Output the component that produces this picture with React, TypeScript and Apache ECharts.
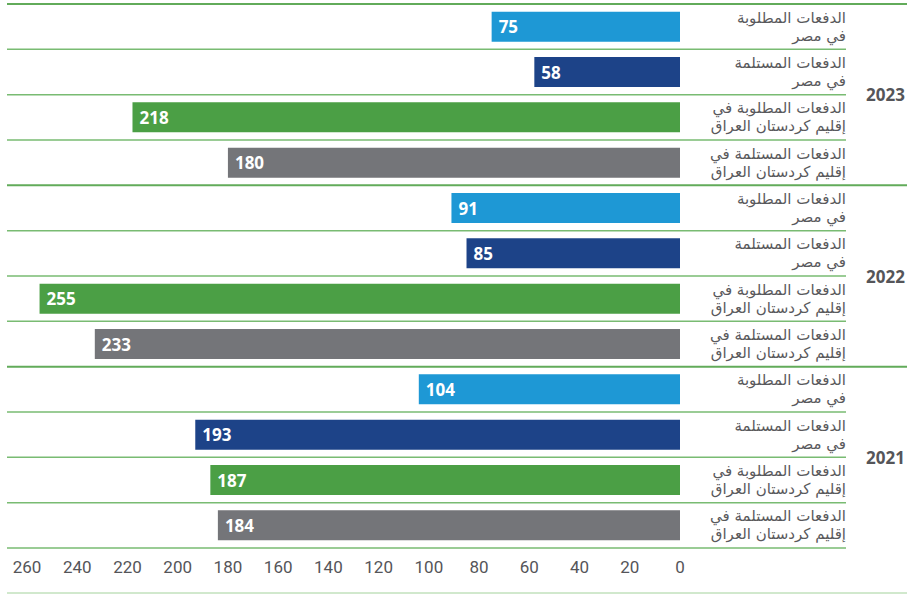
import React, { useEffect, useRef } from "react";
import * as echarts from "echarts";

const categories = [
  "الدفعات المطلوبة\nفي مصر",
  "الدفعات المستلمة\nفي مصر",
  "الدفعات المطلوبة في\nإقليم كردستان العراق",
  "الدفعات المستلمة في\nإقليم كردستان العراق",
  "الدفعات المطلوبة\nفي مصر",
  "الدفعات المستلمة\nفي مصر",
  "الدفعات المطلوبة في\nإقليم كردستان العراق",
  "الدفعات المستلمة في\nإقليم كردستان العراق",
  "الدفعات المطلوبة\nفي مصر",
  "الدفعات المستلمة\nفي مصر",
  "الدفعات المطلوبة في\nإقليم كردستان العراق",
  "الدفعات المستلمة في\nإقليم كردستان العراق",
];
const years = ["2023", "2022", "2021"];
const values = [75, 58, 218, 180, 91, 85, 255, 233, 104, 193, 187, 184];
const colorKeys = ["reqEg", "recEg", "reqKri", "recKri", "reqEg", "recEg", "reqKri", "recKri", "reqEg", "recEg", "reqKri", "recKri"];
const palette: Record<string, string> = {
  reqEg: "#1e98d5",
  recEg: "#1d4388",
  reqKri: "#4b9f45",
  recKri: "#747579",
};

const W = 924;
const H = 594;
const GRID_TOP = 4;
const GRID_BOTTOM_Y = 548;
const GRID_LEFT = 27;
const ZERO_X = 680;

export default function App() {
  const ref = useRef<HTMLDivElement>(null);
  useEffect(() => {
    if (!ref.current) return;
    const chart = echarts.init(ref.current, null, { renderer: "svg" });
    const rows = categories.length;
    const rowH = (GRID_BOTTOM_Y - GRID_TOP) / rows;
    const lines: any[] = [];
    for (let i = 0; i <= rows; i++) {
      const y = GRID_TOP + i * rowH;
      const yearEdge = i % 4 === 0 && i < rows;
      lines.push({
        type: "line",
        shape: { x1: 7, y1: y, x2: yearEdge ? 907 : 846, y2: y },
        style: { stroke: yearEdge ? "#62ab5a" : "#79bb72", lineWidth: yearEdge ? 2 : 1.5 },
        silent: true,
      });
    }
    lines.push({
      type: "line",
      shape: { x1: 7, y1: 593, x2: 907, y2: 593 },
      style: { stroke: "#a3d29b", lineWidth: 1 },
      silent: true,
    });

    chart.setOption({
      animation: false,
      grid: {
        left: GRID_LEFT,
        right: W - ZERO_X,
        top: GRID_TOP,
        bottom: H - GRID_BOTTOM_Y,
        containLabel: false,
      },
      xAxis: {
        type: "value",
        min: 0,
        max: 260,
        interval: 20,
        inverse: true,
        axisLine: { show: false },
        axisTick: { show: false },
        splitLine: { show: false },
        axisLabel: {
          color: "#555559",
          fontSize: 17,
          margin: 10,
          fontFamily: "'Liberation Sans Narrow', 'Roboto', sans-serif",
        },
      },
      yAxis: [
        {
          type: "category",
          data: categories,
          inverse: true,
          position: "right",
          axisLine: { show: false },
          axisTick: { show: false },
          splitLine: { show: false },
          axisLabel: {
            align: "right",
            margin: 166,
            color: "#59595c",
            fontSize: 15,
            lineHeight: 18,
            fontFamily: "'DejaVu Sans', 'Noto Sans', sans-serif",
          },
        },
        {
          type: "category",
          data: years,
          inverse: true,
          position: "right",
          axisLine: { show: false },
          axisTick: { show: false },
          splitLine: { show: false },
          axisLabel: {
            align: "left",
            margin: 186,
            color: "#555559",
            fontSize: 17,
            fontWeight: "bold",
            padding: [4, 0, 0, 0],
            fontFamily: "'Open Sans', 'Noto Sans', sans-serif",
          },
        },
      ],
      series: [
        {
          type: "bar",
          yAxisIndex: 0,
          barWidth: 30,
          data: values.map((v, i) => ({ value: v, itemStyle: { color: palette[colorKeys[i]] } })),
          label: {
            show: true,
            position: "insideLeft",
            distance: 7,
            color: "#ffffff",
            fontSize: 17,
            fontWeight: "bold",
            fontFamily: "'Open Sans', 'Noto Sans', sans-serif",
          },
        },
      ],
      graphic: lines,
    });
    return () => chart.dispose();
  }, []);
  return (
    <div
      ref={ref}
      style={{ position: "fixed", left: 0, top: 0, width: W, height: H, background: "#ffffff" }}
    />
  );
}
